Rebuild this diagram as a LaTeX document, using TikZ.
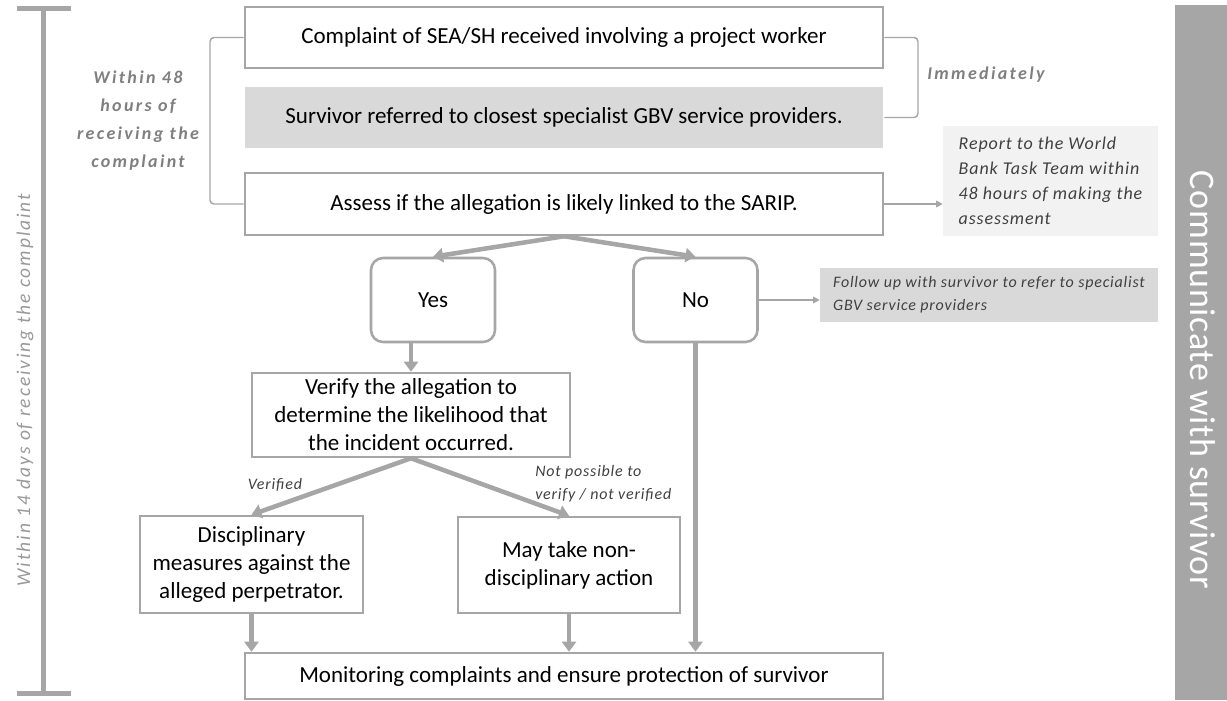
\documentclass[tikz,border=0pt]{standalone}
\usepackage{fontspec}
\setmainfont{Carlito}
\newfontfamily\spfont[LetterSpace=5]{Carlito}
\newfontfamily\wfont[LetterSpace=13]{Carlito}
\newfontfamily\vfont[LetterSpace=10]{Carlito}
\newfontfamily\cfont[LetterSpace=2]{Carlito}
\usetikzlibrary{arrows.meta,calc}
\newlength\pxu
\setlength\pxu{0.75pt}
\definecolor{lg}{HTML}{A6A6A6}
\definecolor{gd}{HTML}{D9D9D9}
\definecolor{vlg}{HTML}{F2F2F2}
\definecolor{tg}{HTML}{7F7F7F}
\definecolor{dg}{HTML}{404040}
\definecolor{vg}{HTML}{999999}
\tikzset{
  box/.style={draw=lg, line width=1.9pt, fill=white, inner sep=0pt, align=center,
    font=\fontsize{17.25pt}{21pt}\selectfont},
  rbox/.style={box, rounded corners=9pt, minimum width=124\pxu, minimum height=84\pxu},
  note/.style={inner sep=0pt, align=left, text=dg,
    font=\spfont\itshape\fontsize{13.5pt}{18.75pt}\selectfont},
  lab/.style={inner sep=0pt, align=left, text=dg,
    font=\spfont\itshape\fontsize{12pt}{17.25pt}\selectfont},
  timing/.style={inner sep=0pt, align=center, text=tg,
    font=\wfont\bfseries\itshape\fontsize{13.5pt}{21pt}\selectfont},
  arr/.style={draw=lg, line width=3.4pt, -{Triangle[length=7.5pt,width=10.5pt]}},
  tarr/.style={draw=lg, line width=1.1pt, -{Triangle[length=5pt,width=5pt]}},
  brace/.style={draw=lg, line width=1.1pt, rounded corners=3pt},
  tbar/.style={draw=lg, line width=3.75pt}
}
\begin{document}
\begin{tikzpicture}[x=0.75pt,y=-0.75pt]
\useasboundingbox (0,0) rectangle (1227,700);

% left timeline bar
\coordinate (bt) at (43,8);
\coordinate (bb) at (43,693);
\draw[tbar] (bt) -- (bb);
\draw[tbar] (17,8) -- (71,8);
\draw[tbar] (17,693) -- (71,693);
\node[rotate=90, inner sep=0pt, text=vg, font=\vfont\itshape\fontsize{14.6pt}{16pt}\selectfont] (w14) at (25,390) {Within 14 days of receiving the complaint};

% right bar
\node[fill=lg, minimum width=52\pxu, minimum height=695\pxu, inner sep=0pt] (cbar) at (1201,352.5) {};
\node[rotate=-90, inner sep=0pt, text=white, font=\cfont\fontsize{27pt}{30pt}\selectfont] (comm) at (1203,380) {Communicate with survivor};

% main boxes
\node[box, minimum width=638\pxu, minimum height=61\pxu] (c1) at (564,37.5) {Complaint of SEA/SH received involving a project worker};
\node[box, draw=none, fill=gd, minimum width=638\pxu, minimum height=61\pxu] (c2) at (564,117.5) {Survivor referred to closest specialist GBV service providers.};
\node[box, minimum width=638\pxu, minimum height=62\pxu] (c3) at (564,204) {Assess if the allegation is likely linked to the SARIP.};
\node[rbox] (yes) at (433,300) {Yes};
\node[rbox] (no) at (695.5,300) {No};
\node[box, minimum width=318\pxu, minimum height=84\pxu] (ver) at (411,415) {Verify the allegation to\\determine the likelihood that\\the incident occurred.};
\node[box, minimum width=223\pxu, minimum height=97\pxu] (disc) at (251.5,564.5) {Disciplinary\\measures against the\\alleged perpetrator.};
\node[box, minimum width=222\pxu, minimum height=96\pxu] (may) at (569,565) {May take non-\\disciplinary action};
\node[box, minimum width=638\pxu, minimum height=46\pxu] (mon) at (564,676) {Monitoring complaints and ensure protection of survivor};

% side notes
\node[note, fill=vlg, minimum width=215\pxu, minimum height=110\pxu] (rep) at (1050.5,181) {Report to the World\\Bank Task Team within\\48 hours of making the\\assessment};
\node[lab, fill=gd, minimum width=338\pxu, minimum height=54\pxu] (fol) at (989,295) {Follow up with survivor to refer to specialist\\GBV service providers};

% timing labels and braces
\node[timing] (w48) at (138,121) {Within 48\\hours of\\receiving the\\complaint};
\node[timing, anchor=west] (imm) at (927,75) {Immediately};
\draw[brace] (c1.west) -| (210,120) |- (c3.west);
\draw[brace] (c1.east) -| (918,80) |- (c2.east);

% connectors
\draw[arr] (c3.south) -- (yes.north);
\draw[arr] (c3.south) -- (no.north);
\draw[arr] (ver.north |- yes.south) -- (ver.north);
\draw[arr] (ver.south) -- (disc.north);
\draw[arr] (ver.south) -- (may.north);
\draw[arr] (disc.south) -- (disc.south |- mon.north);
\draw[arr] (may.south) -- (may.south |- mon.north);
\draw[arr] (no.south) -- (no.south |- mon.north);
\draw[tarr] (c3.east) -- (c3.east -| rep.west);
\draw[tarr] (no.east) -- (no.east -| fol.west);

% branch labels
\node[lab] (lv) at (275,485) {Verified};
\node[lab, anchor=west] (lnv) at (535,483.5) {Not possible to\\verify / not verified};
\end{tikzpicture}
\end{document}
